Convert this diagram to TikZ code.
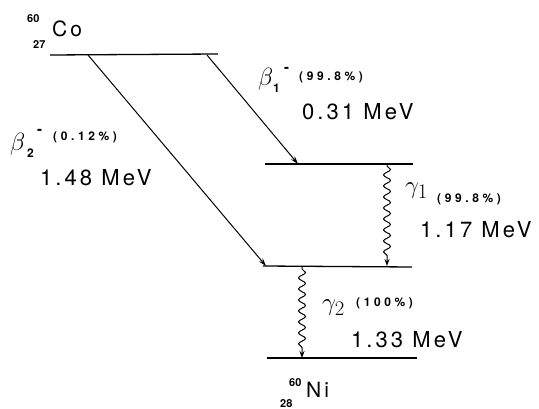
\documentclass[tikz,border=0pt]{standalone}
\usepackage{fontspec}
\setmainfont{TeX Gyre Heros}
\newfontfamily\labfont[LetterSpace=14]{TeX Gyre Heros}
\newfontfamily\pctfont[LetterSpace=30]{TeX Gyre Heros}
\usetikzlibrary{decorations.pathmorphing,arrows.meta}
\begin{document}
\begin{tikzpicture}[x=1pt,y=-1pt,
  level/.style={line width=1.3pt},
  trans/.style={line width=1pt,-{Stealth[length=8pt,width=5pt]}},
  gam/.style={line width=1pt,-{Stealth[length=7pt,width=5pt]},decorate,
    decoration={snake,segment length=11pt,amplitude=3.5pt,pre length=2pt,post length=7pt}},
  energy/.style={anchor=base west,inner sep=0pt,font=\fontsize{22}{22}\labfont},
  pct/.style={anchor=base west,inner sep=0pt,font=\fontsize{12}{12}\bfseries\pctfont},
  greek/.style={anchor=base west,inner sep=0pt},
  script/.style={anchor=base west,inner sep=0pt,font=\fontsize{12}{12}\bfseries\selectfont},
  iso/.style={anchor=base west,inner sep=0pt,font=\fontsize{21}{21}\labfont},
  isonum/.style={anchor=base west,inner sep=0pt,font=\fontsize{11}{11}\bfseries\selectfont}]
\useasboundingbox (0,0) rectangle (539,409);
% levels
\coordinate (l0a) at (50,55); \coordinate (l0b) at (218,54);
\coordinate (l1a) at (265,164); \coordinate (l1b) at (413,164);
\coordinate (l2a) at (263,266); \coordinate (l2b) at (412,267);
\coordinate (l3a) at (267,358); \coordinate (l3b) at (417,358);
\draw[level] (l0a) -- (l0b);
\draw[level] (l1a) -- (l1b);
\draw[level] (l2a) -- (l2b);
\draw[level] (l3a) -- (l3b);
% transitions
\coordinate (b1s) at (207,55); \coordinate (b1e) at (298,164);
\coordinate (b2s) at (88,55); \coordinate (b2e) at (266,266);
\coordinate (g1s) at (387,164); \coordinate (g1e) at (387,266);
\coordinate (g2s) at (302,267); \coordinate (g2e) at (302,358);
\draw[trans] (b1s) -- (b1e);
\draw[trans] (b2s) -- (b2e);
\draw[gam] (g1s) -- (g1e);
\draw[gam] (g2s) -- (g2e);
% isotopes
\node[isonum] (co60) at (27,23) {60};
\node[isonum] (co27) at (33,49) {27};
\node[iso] (co) at (52,37) {Co};
\node[isonum] (ni60) at (289,386) {60};
\node[isonum] (ni28) at (280,407) {28};
\node[iso] (ni) at (306,397) {Ni};
% beta 1
\node[greek,font=\fontsize{25}{25}\selectfont] (beta1) at (258,86) {$\beta$};
\node[script] (beta1sub) at (273,93) {1};
\node[script,font=\fontsize{15}{15}\bfseries\selectfont] (beta1sup) at (284,73) {-};
\node[pct] (p1) at (299,81) {(99.8\%)};
\node[energy] (e1) at (302,120) {0.31 MeV};
% beta 2
\node[greek,font=\fontsize{28}{28}\selectfont] (beta2) at (10,151) {$\beta$};
\node[script] (beta2sub) at (27,158) {2};
\node[script,font=\fontsize{15}{15}\bfseries\selectfont] (beta2sup) at (37,135) {-};
\node[pct] (p2) at (53,141) {(0.12\%)};
\node[energy] (e2) at (40,186) {1.48 MeV};
% gamma 1
\node[greek,font=\fontsize{28}{28}\selectfont] (gamma1) at (405,194) {$\gamma_{1}$};
\node[pct] (p3) at (437,203) {(99.8\%)};
\node[energy] (e3) at (420,238) {1.17 MeV};
% gamma 2
\node[greek,font=\fontsize{30}{30}\selectfont] (gamma2) at (322,311) {$\gamma_{2}$};
\node[pct] (p4) at (356,307) {(100\%)};
\node[energy] (e4) at (351,347) {1.33 MeV};
\end{tikzpicture}
\end{document}
